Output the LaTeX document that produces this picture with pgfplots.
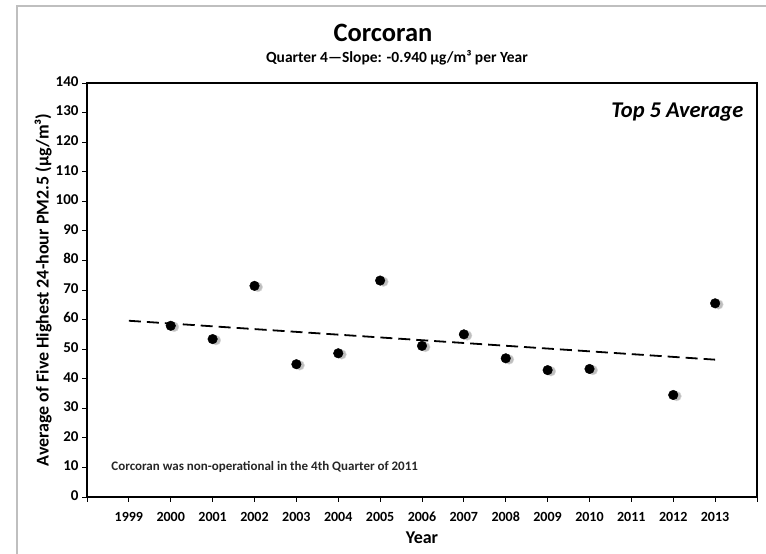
\documentclass[border=0pt]{standalone}
\usepackage{pgfplots}
\pgfplotsset{compat=1.18}
\usepackage{fontspec}
\setmainfont{Carlito}
\begin{document}
\begin{tikzpicture}[x=1pt,y=1pt]
\useasboundingbox (-87,-57) rectangle (679,497);
\draw[gray!50,line width=1.5pt] (-70,-60) -- (-70,491) -- (690,491);
\begin{axis}[
  at={(0,0)}, anchor=south west,
  scale only axis, width=670pt, height=414pt,
  xmin=1998, xmax=2014, ymin=0, ymax=140,
  xtick={1998,...,2014},
  xticklabels={,1999,2000,2001,2002,2003,2004,2005,2006,2007,2008,2009,2010,2011,2012,2013,},
  ytick={0,10,...,140},
  tick align=outside, xtick pos=bottom, ytick pos=left,
  major tick length=5pt,
  axis line style={line width=1.2pt},
  every tick/.style={black, line width=0.8pt},
  typeset ticklabels with strut,
  yticklabel style={font=\fontsize{15}{17}\selectfont\bfseries},
  xticklabel style={font=\fontsize{14}{16}\selectfont\bfseries, yshift=-5pt},
  /pgf/number format/assume math mode=true,
  /pgf/number format/1000 sep={},
  xlabel={Year}, ylabel={Average of Five Highest 24-hour PM2.5 (µg/m³)},
  label style={font=\fontsize{18}{20}\selectfont\bfseries},
  xlabel style={yshift=1.5pt},
  ylabel style={yshift=-3pt},
  clip=false,
]
\addplot[black, dashed, line width=1.8pt, dash pattern=on 12pt off 6pt, forget plot] coordinates {(1999,59.6) (2013,46.44)};
\addplot[only marks, mark=*, mark size=4.8pt, black!15, mark options={draw=none, fill=black!25}, forget plot] table {
x y
2000.08 57.5
2001.08 53.0
2002.08 71.0
2003.08 44.5
2004.08 48.2
2005.08 72.8
2006.08 50.7
2007.08 54.6
2008.08 46.5
2009.08 42.5
2010.08 42.9
2012.08 34.1
2013.08 65.1
};
\addplot[only marks, mark=*, mark size=4.8pt, black] table {
x y
2000 57.9
2001 53.4
2002 71.4
2003 44.9
2004 48.6
2005 73.2
2006 51.1
2007 55.0
2008 46.9
2009 42.9
2010 43.3
2012 34.5
2013 65.5
};
\node[font=\fontsize{22.5}{25}\selectfont\bfseries\itshape, anchor=north east] at (rel axis cs:0.985,0.96) {Top 5 Average};
\node[font=\fontsize{13}{15}\selectfont\bfseries, anchor=west, text=black!85] at (axis cs:1998.5,10) {Corcoran was non-operational in the 4th Quarter of 2011};
\end{axis}
\node[font=\fontsize{26.5}{30}\selectfont\bfseries] at (296,464) {Corcoran};
\node[font=\fontsize{15.5}{17}\selectfont\bfseries] at (310,439) {Quarter 4—Slope: -0.940 µg/m³ per Year};
\end{tikzpicture}
\end{document}
